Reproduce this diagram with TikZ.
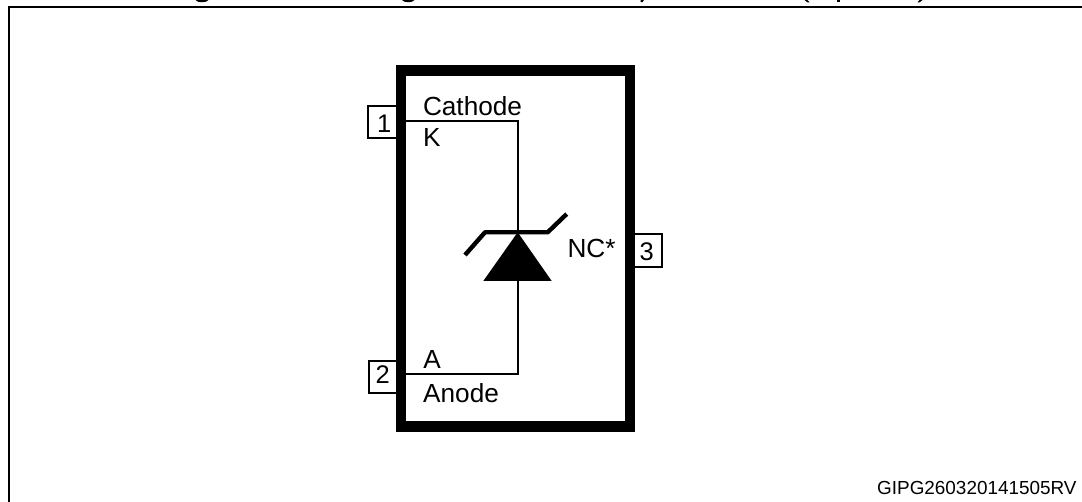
\documentclass[tikz,border=0pt]{standalone}
\usepackage{fontspec}
\setmainfont{Liberation Sans}
\tikzset{
  lbl/.style={inner sep=0pt,anchor=base west,font=\fontsize{26.2}{30}\selectfont,text=black},
  pinnum/.style={inner sep=0pt,anchor=base,font=\fontsize{25.5}{30}\selectfont,text=black},
  pinbox/.style={draw=black,line width=2.1pt,fill=white,inner sep=0pt,outer sep=0pt,anchor=north west},
  pkgbox/.style={draw=black,line width=10.6pt,inner sep=0pt,outer sep=0pt,anchor=north west,minimum width=229pt,minimum height=355.6pt},
  wire/.style={draw=black,line width=2.2pt,line cap=butt,line join=miter},
  gate/.style={draw=black,line width=4.4pt,line cap=butt,line join=round},
  sliver/.style={fill=black}
}
\begin{document}
\begin{tikzpicture}[x=1pt,y=-1pt]
\useasboundingbox (0,0) rectangle (1082,502);
% frame (left and top only, as printed)
\coordinate (fbl) at (8.9,502);
\coordinate (ftl) at (8.9,6.9);
\coordinate (ftr) at (1082,6.9);
\draw[line width=1.8pt,line join=miter] (fbl) -- (ftl) -- (ftr);
% clipped remnants of a title above the frame
\fill[sliver] (195.5,0) .. controls (197,3) and (207,3) .. (208.5,0) -- cycle;
\fill[sliver] (402,0) .. controls (403.5,3) and (413,3) .. (414.5,0) -- cycle;
\fill[sliver] (640.5,0) -- (644,0) -- (642.5,2.2) -- (640.5,2.2) -- cycle;
\fill[sliver] (804.5,0) -- (807.5,0) -- (809.5,2.4) -- (807.5,2.4) -- cycle;
\fill[sliver] (836.5,0) rectangle (840,2.4);
\fill[sliver] (917.5,2.4) -- (919.5,2.4) -- (922.5,0) -- (919.5,0) -- cycle;
% pins
\node[pinbox,minimum width=30pt,minimum height=32pt] (pinA) at (368.3,106.3) {};
\node[pinbox,minimum width=30pt,minimum height=32pt] (pinB) at (369.2,361) {};
\node[pinbox,minimum width=30pt,minimum height=33pt] (pinC) at (632,233.6) {};
% package
\node[pkgbox] (pkg) at (401,70.7) {};
\node[pinnum] (numA) at (384.3,132.7) {1};
\node[pinnum] (numB) at (382.7,384) {2};
\node[pinnum] (numC) at (646.7,261) {3};
% labels
\node[lbl] (cath) at (422.8,115.7) {Cathode};
\node[lbl] (kk) at (422.8,146.7) {K};
\node[lbl] (aa) at (423.2,369) {A};
\node[lbl] (anode) at (423,402.3) {Anode};
\node[lbl] (nc) at (567.3,257.7) {NC*};
\node[inner sep=0pt,anchor=base east,font=\fontsize{18.9}{22}\selectfont,text=black] (code) at (1076.7,494.3) {GIPG260320141505RV};
% diode
\coordinate (apex) at (517.7,232.3);
\coordinate (baseL) at (483.3,281);
\coordinate (baseR) at (551.7,281);
\coordinate (baseM) at (517.7,281);
\fill[black] (apex) -- (baseR) -- (baseL) -- cycle;
\coordinate (zl) at (465,255);
\coordinate (zlb) at (485,232.3);
\coordinate (zrb) at (547.7,232.3);
\coordinate (zr) at (566.7,214);
\draw[gate] (zl) -- (zlb) -- (zrb) -- (zr);
% wires
\coordinate (kin) at (406,121.3);
\coordinate (ain) at (406,374.2);
\draw[wire] (kin) -| (apex);
\draw[wire] (ain) -| (baseM);
\end{tikzpicture}
\end{document}
